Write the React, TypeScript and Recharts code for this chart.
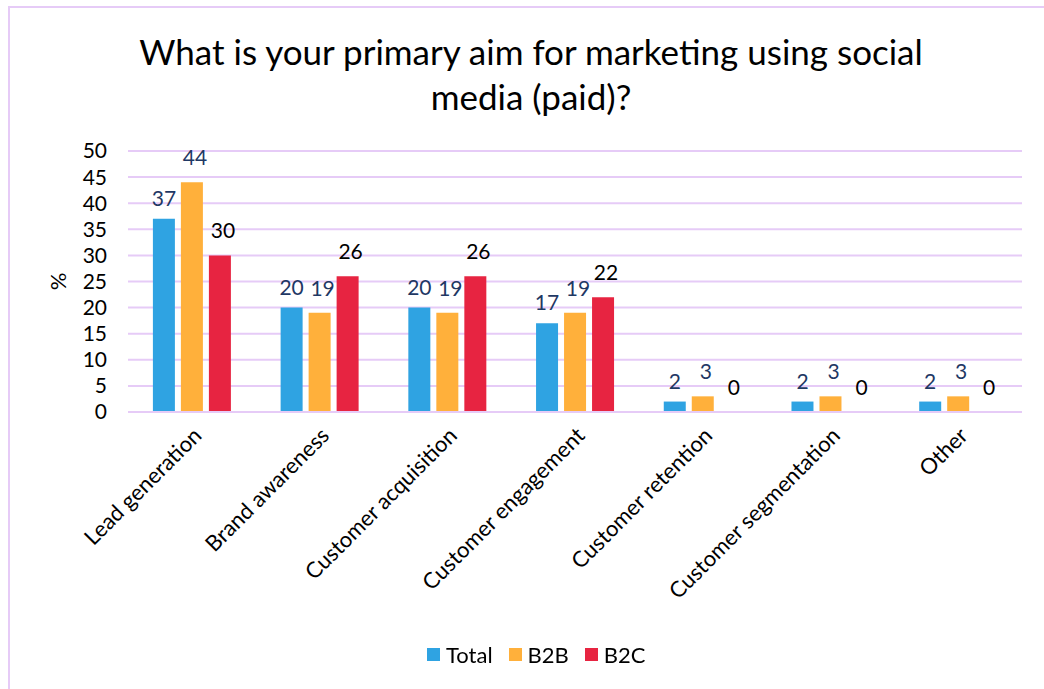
import { Bar, BarChart, CartesianGrid, LabelList, Legend, XAxis, YAxis } from "recharts";

const categories = [
  "Lead generation",
  "Brand awareness",
  "Customer acquisition",
  "Customer engagement",
  "Customer retention",
  "Customer segmentation",
  "Other",
];
const total = [37, 20, 20, 17, 2, 2, 2];
const b2b = [44, 19, 19, 19, 3, 3, 3];
const b2c = [30, 26, 26, 22, 0, 0, 0];
const yTicks = [0, 5, 10, 15, 20, 25, 30, 35, 40, 45, 50];
const seriesOrder = ["Total", "B2B", "B2C"];

const data = categories.map((name, i) => ({
  name,
  total: total[i],
  b2b: b2b[i],
  b2c: b2c[i],
}));

const FONT = "Lato, 'Open Sans', sans-serif";
const GRID = "#E6CBF7";
const NAVY = "#1F3864";

const renderLegend = (props: any) => {
  const items = [...(props.payload || [])].sort(
    (a: any, b: any) => seriesOrder.indexOf(a.value) - seriesOrder.indexOf(b.value)
  );
  return (
    <div
      style={{
        display: "flex",
        alignItems: "center",
        height: 30,
        fontSize: 22,
        fontFamily: FONT,
        color: "#000",
      }}
    >
      {items.map((p: any) => (
        <span
          key={p.value}
          style={{ display: "inline-flex", alignItems: "center", marginRight: 16 }}
        >
          <span
            style={{
              display: "inline-block",
              width: 13,
              height: 13,
              background: p.color,
              marginRight: 6,
            }}
          />
          {p.value}
        </span>
      ))}
    </div>
  );
};

export default function App() {
  return (
    <div
      style={{
        position: "fixed",
        left: 8,
        top: 6,
        width: 1034,
        height: 681,
        borderTop: `2px solid ${GRID}`,
        borderLeft: `2px solid ${GRID}`,
        background: "#fff",
        fontFamily: FONT,
      }}
    >
      <div
        style={{
          position: "absolute",
          left: 0,
          top: 21,
          width: 1042,
          textAlign: "center",
          fontSize: 35,
          lineHeight: "45px",
          color: "#000",
        }}
      >
        What is your primary aim for marketing using social
        <br />
        media (paid)?
      </div>
      <BarChart
        width={1034}
        height={681}
        data={data}
        margin={{ top: 143, right: 22, bottom: 20, left: 0 }}
        barCategoryGap="19.5%"
        barGap={6}
        style={{ fontFamily: FONT }}
      >
        <CartesianGrid vertical={false} stroke={GRID} strokeWidth={2} />
        <XAxis
          dataKey="name"
          interval={0}
          height={227}
          axisLine={{ stroke: GRID, strokeWidth: 2 }}
          tickLine={false}
          tickSize={0}
          tickMargin={14}
          angle={-45}
          textAnchor="end"
          tick={{ fontSize: 22, fill: "#000" }}
        />
        <YAxis
          domain={[0, 50]}
          ticks={yTicks}
          interval={0}
          width={118}
          axisLine={false}
          tickLine={false}
          tickSize={0}
          tickMargin={21}
          tick={{ fontSize: 21, fill: "#000" }}
          label={{
            value: "%",
            angle: -90,
            position: "insideLeft",
            offset: 48,
            fontSize: 22,
            fill: "#000",
            style: { textAnchor: "middle" },
          }}
        />
        <Legend
          verticalAlign="bottom"
          content={renderLegend}
          wrapperStyle={{ left: 417 }}
        />
        <Bar dataKey="total" name="Total" fill="#2FA3E2" isAnimationActive={false}>
          <LabelList dataKey="total" position="top" offset={13} fill={NAVY} fontSize={21} />
        </Bar>
        <Bar dataKey="b2b" name="B2B" fill="#FFB03B" isAnimationActive={false}>
          <LabelList dataKey="b2b" position="top" offset={17} dx={3} fill={NAVY} fontSize={21} />
        </Bar>
        <Bar
          dataKey="b2c"
          name="B2C"
          fill="#E72441"
          minPointSize={0.01}
          isAnimationActive={false}
        >
          <LabelList dataKey="b2c" position="top" offset={17} dx={3} fill="#000" fontSize={21} />
        </Bar>
      </BarChart>
    </div>
  );
}
